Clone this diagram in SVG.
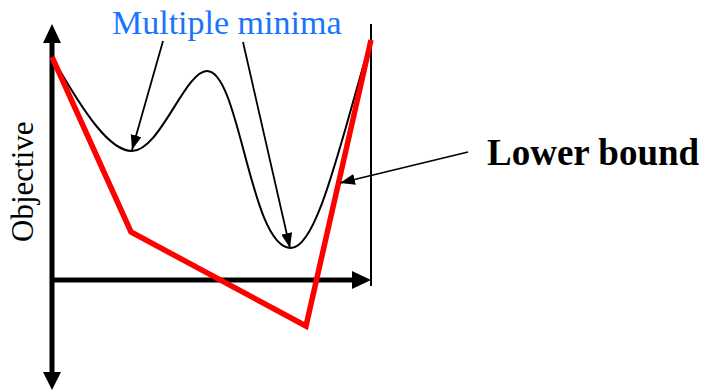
<svg xmlns="http://www.w3.org/2000/svg" width="707" height="391" viewBox="0 0 707 391">
<style>
text{font-family:'Liberation Serif','Times New Roman',serif}
.axis{stroke:#000;stroke-width:5;fill:none}
.thin{stroke:#000;stroke-width:2;fill:none}
.ptr{stroke:#000;stroke-width:1.8;fill:none}
.bound{stroke:#ff0000;stroke-width:5.5;fill:none;stroke-linejoin:miter}
</style>
<defs>
<marker id="ah" viewBox="0 0 15 11" refX="15" refY="5.5" markerWidth="15" markerHeight="11" markerUnits="userSpaceOnUse" orient="auto">
<path d="M0,0 L15,5.5 L0,11 Z" fill="#000"/>
</marker>
</defs>
<rect width="707" height="391" fill="#fff"/>
<g id="axes">
<line class="axis" x1="52" y1="40" x2="52" y2="376"/>
<polygon points="52,24 43,43 61,43" fill="#000"/>
<polygon points="52,390 43,372 61,372" fill="#000"/>
<line class="axis" x1="50" y1="280" x2="355" y2="280"/>
<polygon points="371,280 352,271 352,289" fill="#000"/>
<line class="thin" x1="371" y1="24" x2="371" y2="286"/>
</g>
<g id="objective-curve">
<path class="thin" d="M52,57 C85,115 110,151 132,151 C160,151 185,71 207,71 C240,71 250,248 291,248 C318,248 342,135 371,40"/>
</g>
<g id="lower-bound-curve">
<polyline class="bound" points="52,57 131,232 306,326 371,40"/>
</g>
<g id="connectors">
<line class="ptr" x1="163" y1="41" x2="132" y2="150" marker-end="url(#ah)"/>
<line class="ptr" x1="243" y1="42" x2="290" y2="248" marker-end="url(#ah)"/>
<line class="ptr" x1="468" y1="152" x2="340" y2="183" marker-end="url(#ah)"/>
</g>
<g id="label-multiple-minima">
<text x="112" y="34" font-size="34" fill="#1a73ff">Multiple minima</text>
</g>
<g id="label-lower-bound">
<text x="487" y="165" font-size="37" font-weight="bold" fill="#000">Lower bound</text>
</g>
<g id="label-objective">
<text transform="translate(33,242) rotate(-90)" font-size="31" fill="#000">Objective</text>
</g>
</svg>
